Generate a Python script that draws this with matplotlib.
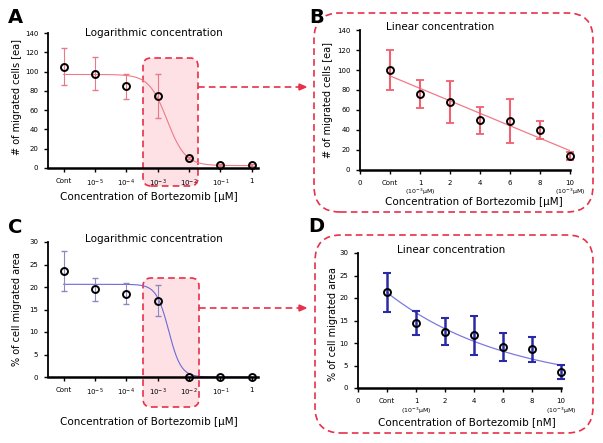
import numpy as np
import matplotlib
matplotlib.use("Agg")
import matplotlib.pyplot as plt
from matplotlib.patches import FancyBboxPatch, Polygon
from matplotlib.lines import Line2D

## Data
log_labels = ["Cont", "$10^{-5}$", "$10^{-4}$", "$10^{-3}$", "$10^{-2}$", "$10^{-1}$", "1"]
lin_labels = ["0", "Cont", "1", "2", "4", "6", "8", "10"]

a_mean = [105, 98, 85, 75, 10, 3, 3]
a_err = [19, 17, 13, 23, 1, 1, 1]
a_fit = dict(top=97, bottom=2.5, mid=3.3, hill=1.5)

b_mean = [100, 76, 68, 50, 49, 40, 14]
b_err = [20, 14, 21, 13.5, 22, 9, 4]

c_mean = [23.5, 19.5, 18.5, 17.0, 0, 0, 0]
c_err = [4.4, 2.5, 2.3, 3.5, 0, 0, 0]
c_fit = dict(top=20.6, bottom=0.0, mid=3.35, hill=2.2)

d_mean = [21.3, 14.5, 12.5, 11.7, 9.2, 8.6, 3.6]
d_err = [4.3, 2.7, 3.0, 4.4, 3.1, 2.8, 1.6]

W, H = 603, 443
fig = plt.figure(figsize=(W / 100, H / 100), dpi=100)
pt = fig.dpi_scale_trans
RED = "#e8304a"


def ax_px(left, right, top, bottom):
    # axes rectangle from pixel coords (top-left origin)
    return fig.add_axes([left / W, 1 - bottom / H, (right - left) / W, (bottom - top) / H])


def box(x0, x1, y0, y1, r, fc):
    p = FancyBboxPatch((x0 / 100, (H - y1) / 100), (x1 - x0) / 100, (y1 - y0) / 100,
                       boxstyle="round,pad=0,rounding_size=%f" % (r / 100),
                       transform=pt, fc=fc, ec=RED, lw=1.2, ls=(0, (4, 2.5)), zorder=-5)
    fig.patches.append(p)


def arrow(x0, x1, y):
    fig.lines.append(Line2D([x0 / 100, (x1 - 6) / 100], [(H - y) / 100] * 2, transform=pt,
                            color=RED, lw=1.2, ls=(0, (4, 2.5)), zorder=-4))
    fig.patches.append(Polygon([[(x1 - 7) / 100, (H - y + 3) / 100], [x1 / 100, (H - y) / 100],
                                [(x1 - 7) / 100, (H - y - 3) / 100]], closed=True,
                               transform=pt, fc=RED, ec=RED, zorder=-4))


def style(ax):
    ax.patch.set_alpha(0)
    for s in ("top", "right"):
        ax.spines[s].set_visible(False)
    ax.spines["left"].set_linewidth(1.3)
    ax.spines["bottom"].set_linewidth(1.8)
    ax.tick_params(length=3, width=1, labelsize=5, pad=4)


def labels(ax, title, tx, ty, xlab, lx, ly, ylab, yx, yy):
    ax.text(tx, ty, title, transform=ax.transAxes, fontsize=7.5, ha="center", va="center")
    ax.set_xlabel(xlab, fontsize=7.5, va="center")
    ax.xaxis.set_label_coords(lx, ly)
    ax.set_ylabel(ylab, fontsize=7, va="center")
    ax.yaxis.set_label_coords(yx, yy)


def sigmoid(x, p):
    return p["bottom"] + (p["top"] - p["bottom"]) / (1 + 10 ** ((x - p["mid"]) * p["hill"]))


## Background boxes and arrows
box(143, 198, 58, 186, 8, "#fde1e5")
box(143, 199, 278, 407, 8, "#fde1e5")
box(314, 593, 13, 212, 26, "white")
box(315, 593, 235, 433, 26, "white")
arrow(198, 306, 87)
arrow(199, 306, 308)

xs = np.arange(7)
xfit = np.linspace(0, 6, 300)
xb = np.arange(1, 8)

## A
ax = ax_px(48, 258, 33, 168)
style(ax)
ax.plot(xfit, sigmoid(xfit, a_fit), color="#f07a88", lw=0.8)
ax.errorbar(xs, a_mean, yerr=a_err, fmt="none", ecolor="#e87a88", elinewidth=0.8, capsize=2.5)
ax.plot(xs, a_mean, "o", mfc="none", mec="black", ms=5, mew=1.4, clip_on=False)
ax.set_xlim(-0.5, 6.2)
ax.set_ylim(0, 140)
ax.set_yticks(range(0, 141, 20))
ax.set_xticks(xs)
ax.set_xticklabels(log_labels)
labels(ax, "Logarithmic concentration", 0.505, 1.0,
       "Concentration of Bortezomib [\u03bcM]", 0.48, -0.215,
       "# of migrated cells [ea]", -0.148, 0.526)

## B
ax = ax_px(360, 570, 30, 170)
style(ax)
k = np.polyfit(xb, b_mean, 1)
ax.plot(xb, np.polyval(k, xb), color="#f07a88", lw=0.9)
ax.errorbar(xb, b_mean, yerr=b_err, fmt="none", ecolor="#f0606e", elinewidth=1.5, capsize=3,
            capthick=1.3, clip_on=False)
ax.plot(xb, b_mean, "o", mfc="none", mec="black", ms=5, mew=1.4, clip_on=False)
ax.set_xlim(0, 7)
ax.set_ylim(0, 140)
ax.set_yticks(range(0, 141, 20))
ax.set_xticks(np.arange(8))
ax.set_xticklabels(lin_labels)
for xi in (2, 7):
    ax.text(xi, -0.155, "($10^{-3}$\u03bcM)", transform=ax.get_xaxis_transform(), fontsize=4.5,
            ha="center", va="center")
labels(ax, "Linear concentration", 0.38, 1.02,
       "Concentration of Bortezomib [\u03bcM]", 0.54, -0.232,
       "# of migrated cells [ea]", -0.152, 0.5)

## C
ax = ax_px(48, 258, 242, 377)
style(ax)
ax.plot(xfit, sigmoid(xfit, c_fit), color="#6a6ad8", lw=0.8)
ax.errorbar(xs, c_mean, yerr=c_err, fmt="none", ecolor="#8a8ac0", elinewidth=0.8, capsize=2.5)
ax.plot(xs, c_mean, "o", mfc="none", mec="black", ms=5, mew=1.4, clip_on=False)
ax.set_xlim(-0.5, 6.2)
ax.set_ylim(0, 30)
ax.set_yticks(range(0, 31, 5))
ax.set_xticks(xs)
ax.set_xticklabels(log_labels)
labels(ax, "Logarithmic concentration", 0.505, 1.02,
       "Concentration of Bortezomib [\u03bcM]", 0.48, -0.333,
       "% of cell migrated area", -0.148, 0.5)

## D
ax = ax_px(358, 561, 253, 388)
style(ax)
kd = np.polyfit(xb, np.log(d_mean), 1)
xd = np.linspace(1, 7, 200)
ax.plot(xd, np.exp(np.polyval(kd, xd)), color="#7a7ae0", lw=0.9)
ax.errorbar(xb, d_mean, yerr=d_err, fmt="none", ecolor="#2a2aa8", elinewidth=1.8, capsize=3,
            capthick=1.5, clip_on=False)
ax.plot(xb, d_mean, "o", mfc="none", mec="black", ms=5, mew=1.4, clip_on=False)
ax.set_xlim(0, 7)
ax.set_ylim(0, 30)
ax.set_yticks(range(0, 31, 5))
ax.set_xticks(np.arange(8))
ax.set_xticklabels(lin_labels)
for xi in (2, 7):
    ax.text(xi, -0.172, "($10^{-3}$\u03bcM)", transform=ax.get_xaxis_transform(), fontsize=4.5,
            ha="center", va="center")
labels(ax, "Linear concentration", 0.46, 1.022,
       "Concentration of Bortezomib [nM]", 0.537, -0.25,
       "% of cell migrated area", -0.123, 0.47)

## Panel letters
for lab, x, y in (("A", 8, 23), ("B", 309, 23), ("C", 8, 233), ("D", 308, 232)):
    fig.text(x / W, 1 - y / H, lab, fontsize=14, fontweight="bold", ha="left", va="baseline")

fig.savefig("out.png", dpi=100)
